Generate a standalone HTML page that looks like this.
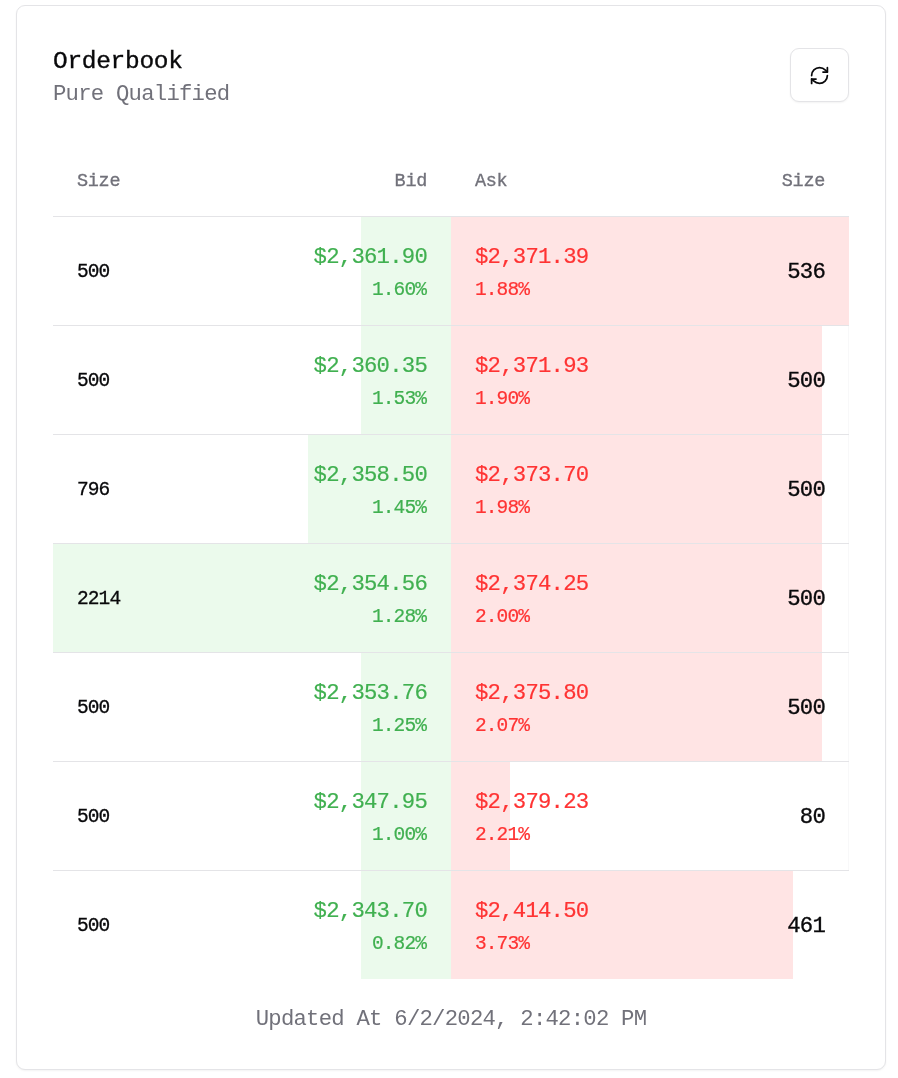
<!DOCTYPE html>
<html lang="en">
<head>
<meta charset="utf-8">
<title>Orderbook</title>
<style>
  html, body { margin:0; padding:0; background:#fff; }
  body { width:898px; height:1078px; position:relative; overflow:hidden;
    font-family:"Liberation Mono","DejaVu Sans Mono",monospace; color:#09090b; }
  .card { position:absolute; left:16px; top:5px; width:870px; height:1065px; box-sizing:border-box;
    border:1px solid #e4e4e7; border-radius:9px; background:#fff; box-shadow:0 1px 2px rgba(0,0,0,0.05); }
  .t24 { font-size:24.5px; letter-spacing:-0.302px; }
  .t21, .p { font-size:22.25px; letter-spacing:-0.752px; }
  .t18 { font-size:19.5px; letter-spacing:-0.902px; }
  .t18h { font-size:18.5px; letter-spacing:-0.302px; }
  .pc { font-size:19.5px; letter-spacing:-0.902px; }
  .title { position:absolute; left:36px; top:38px; line-height:36px; white-space:nowrap; -webkit-text-stroke:0.35px #09090b; }
  .sub { position:absolute; left:36px; top:73px; line-height:30px; color:#71717a; white-space:nowrap; }
  .btn { position:absolute; left:773px; top:42px; width:59px; height:54px; box-sizing:border-box;
    border:1px solid #e4e4e7; border-radius:9px; background:#fff; box-shadow:0 1px 2px rgba(0,0,0,0.05); }
  .btn svg { position:absolute; left:18px; top:16px; width:21px; height:21px; }
  .table { position:absolute; left:36px; top:138px; width:796px; }
  .head { position:relative; height:72px; border-bottom:1px solid #e4e4e7; line-height:24px; color:#71717a; -webkit-text-stroke:0.3px #71717a; }
  .head div { position:absolute; top:26px; white-space:nowrap; }
  .row { position:relative; height:109px; }
  .row.last { height:108px; }
  .line { position:absolute; left:0; right:0; bottom:0; height:1px; background:#e4e4e7; }
  .row.last .line { display:none; }
  .edge { position:absolute; left:795px; width:1px; top:0; bottom:1px; background:#f8f8f9; }
  .bar { position:absolute; top:0; bottom:0; }
  .bar.bid { right:398px; background:#ebfaec; }
  .bar.ask { left:398px; background:#ffe4e4; }
  .sz { position:absolute; white-space:nowrap; }
  .sz.l { left:24px; top:43px; line-height:24px; -webkit-text-stroke:0.3px #09090b; }
  .sz.r { right:24px; top:40px; line-height:30px; text-align:right; -webkit-text-stroke:0.35px #09090b; }
  .px { position:absolute; top:25px; white-space:nowrap; }
  .px.b { right:422px; text-align:right; color:#40b050; -webkit-text-stroke:0.2px #40b050; }
  .px.b .pc { padding-right:1px; }
  .px.a { left:422px; text-align:left; color:#ff3333; -webkit-text-stroke:0.2px #ff3333; }
  .p { line-height:30px; }
  .pc { line-height:24px; margin-top:6px; }
  .foot { position:absolute; left:0; right:0; top:998px; text-align:center; line-height:30px; color:#71717a; white-space:nowrap; }
</style>
</head>
<body>
<div class="card">
  <div class="title t24">Orderbook</div>
  <div class="sub t21">Pure Qualified</div>
  <div class="btn">
    <svg viewBox="0 0 24 24" fill="none" stroke="#09090b" stroke-width="2" stroke-linecap="round" stroke-linejoin="round">
      <path d="M3 12a9 9 0 0 1 9-9 9.75 9.75 0 0 1 6.74 2.74L21 8"/><path d="M21 3v5h-5"/><path d="M21 12a9 9 0 0 1-9 9 9.75 9.75 0 0 1-6.74-2.74L3 16"/><path d="M8 16H3v5"/>
    </svg>
  </div>
  <div class="table">
    <div class="head t18h">
      <div style="left:24px">Size</div>
      <div style="right:422px">Bid</div>
      <div style="left:422px">Ask</div>
      <div style="right:24px">Size</div>
    </div>
    <div class="row">
      <div class="bar bid" style="width:90px"></div>
      <div class="bar ask" style="width:398px"></div>
      <div class="sz l t18">500</div>
      <div class="px b"><div class="p">$2,361.90</div><div class="pc">1.60%</div></div>
      <div class="px a"><div class="p">$2,371.39</div><div class="pc">1.88%</div></div>
      <div class="sz r t21">536</div>
      <div class="line"></div>
    </div>
    <div class="row">
      <div class="bar bid" style="width:90px"></div>
      <div class="bar ask" style="width:371px"></div><div class="edge"></div>
      <div class="sz l t18">500</div>
      <div class="px b"><div class="p">$2,360.35</div><div class="pc">1.53%</div></div>
      <div class="px a"><div class="p">$2,371.93</div><div class="pc">1.90%</div></div>
      <div class="sz r t21">500</div>
      <div class="line"></div>
    </div>
    <div class="row">
      <div class="bar bid" style="width:143px"></div>
      <div class="bar ask" style="width:371px"></div><div class="edge"></div>
      <div class="sz l t18">796</div>
      <div class="px b"><div class="p">$2,358.50</div><div class="pc">1.45%</div></div>
      <div class="px a"><div class="p">$2,373.70</div><div class="pc">1.98%</div></div>
      <div class="sz r t21">500</div>
      <div class="line"></div>
    </div>
    <div class="row">
      <div class="bar bid" style="width:398px"></div>
      <div class="bar ask" style="width:371px"></div><div class="edge"></div>
      <div class="sz l t18">2214</div>
      <div class="px b"><div class="p">$2,354.56</div><div class="pc">1.28%</div></div>
      <div class="px a"><div class="p">$2,374.25</div><div class="pc">2.00%</div></div>
      <div class="sz r t21">500</div>
      <div class="line"></div>
    </div>
    <div class="row">
      <div class="bar bid" style="width:90px"></div>
      <div class="bar ask" style="width:371px"></div><div class="edge"></div>
      <div class="sz l t18">500</div>
      <div class="px b"><div class="p">$2,353.76</div><div class="pc">1.25%</div></div>
      <div class="px a"><div class="p">$2,375.80</div><div class="pc">2.07%</div></div>
      <div class="sz r t21">500</div>
      <div class="line"></div>
    </div>
    <div class="row">
      <div class="bar bid" style="width:90px"></div>
      <div class="bar ask" style="width:59px"></div><div class="edge"></div>
      <div class="sz l t18">500</div>
      <div class="px b"><div class="p">$2,347.95</div><div class="pc">1.00%</div></div>
      <div class="px a"><div class="p">$2,379.23</div><div class="pc">2.21%</div></div>
      <div class="sz r t21">80</div>
      <div class="line"></div>
    </div>
    <div class="row last">
      <div class="bar bid" style="width:90px"></div>
      <div class="bar ask" style="width:342px"></div>
      <div class="sz l t18">500</div>
      <div class="px b"><div class="p">$2,343.70</div><div class="pc">0.82%</div></div>
      <div class="px a"><div class="p">$2,414.50</div><div class="pc">3.73%</div></div>
      <div class="sz r t21">461</div>
      <div class="line"></div>
    </div>
  </div>
  <div class="foot t21">Updated At 6/2/2024, 2:42:02 PM</div>
</div>
</body>
</html>
